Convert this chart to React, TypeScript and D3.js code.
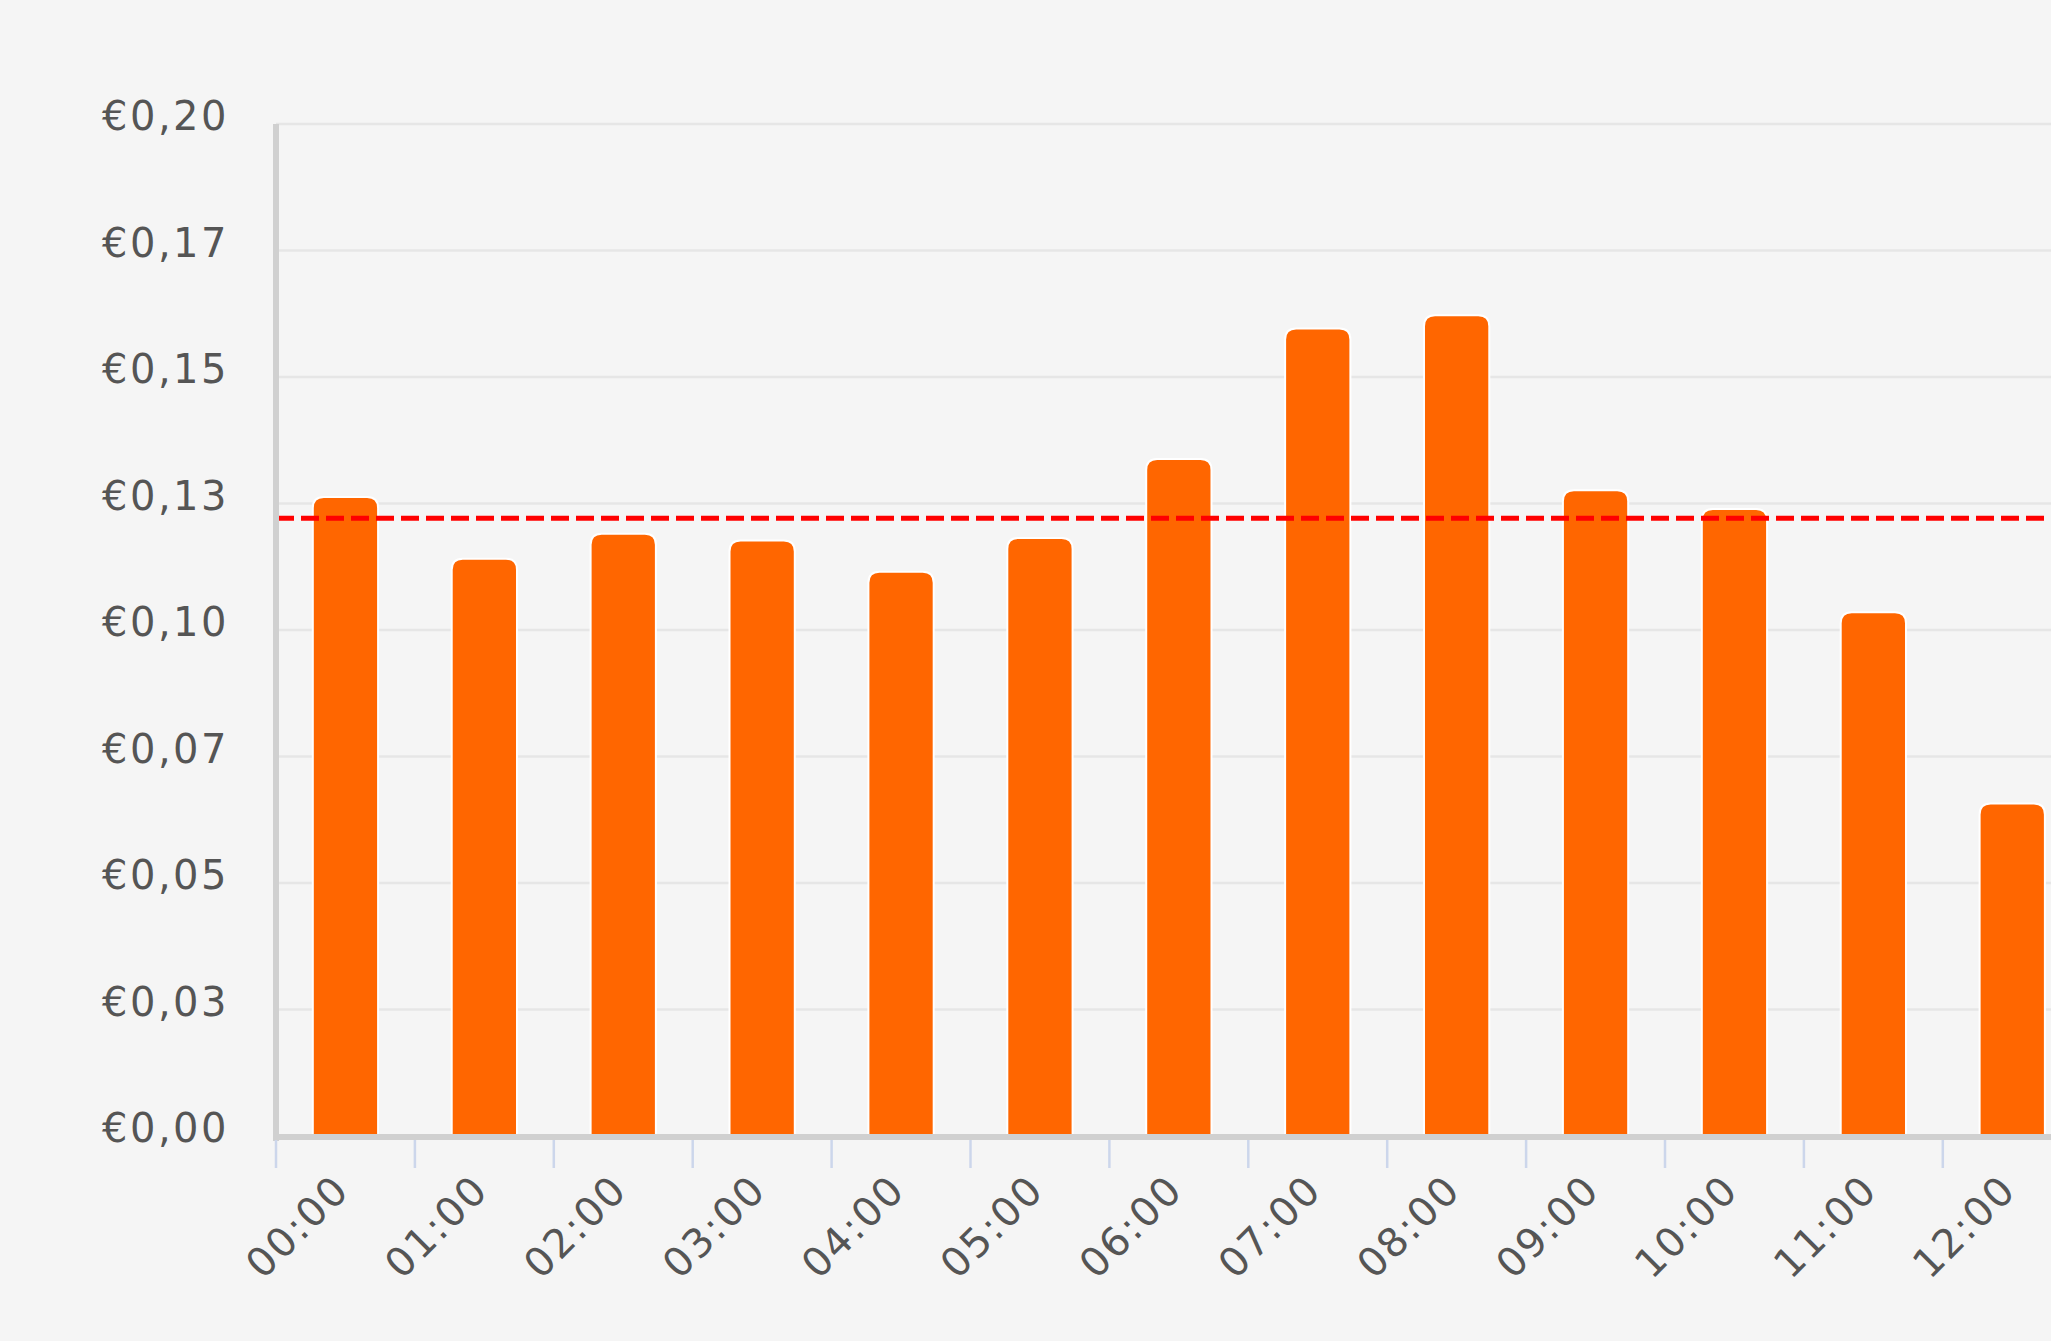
import React from "react";
import * as d3 from "d3";

const hours = ["00:00","01:00","02:00","03:00","04:00","05:00","06:00","07:00","08:00","09:00","10:00","11:00","12:00"];
const prices = [0.1263,0.1141,0.1190,0.1177,0.1115,0.1182,0.1338,0.1596,0.1622,0.1276,0.1239,0.1035,0.0657];
const averagePrice = 0.1221;
const yTicks = [0, 0.025, 0.05, 0.075, 0.1, 0.125, 0.15, 0.175, 0.2];
const yTickLabels = ["€0,00","€0,03","€0,05","€0,07","€0,10","€0,13","€0,15","€0,17","€0,20"];

const W = 2051, H = 1341;
const left = 276, top = 124, bottom = 1136;
const band = 138.9;

export default function App() {
  if (typeof document !== "undefined") document.body.style.margin = "0";
  const x = d3.scaleBand<string>().domain(hours).range([left, left + band * hours.length]).padding(0);
  const y = d3.scaleLinear().domain([0, 0.2]).range([bottom, top]);
  const bw = x.bandwidth() * 0.47;
  const r = 11;
  const barPath = (xc: number, v: number) => {
    const x0 = xc - bw / 2, x1 = xc + bw / 2, y0 = y(v), yb = y(0);
    return `M${x0},${yb} L${x0},${y0 + r} Q${x0},${y0} ${x0 + r},${y0} L${x1 - r},${y0} Q${x1},${y0} ${x1},${y0 + r} L${x1},${yb} Z`;
  };
  const font = "'DejaVu Sans', Verdana, sans-serif";
  return (
    <svg width={W} height={H} style={{ display: "block", background: "#f5f5f5" }}>
      <rect x={0} y={0} width={W} height={H} fill="#f5f5f5" />
      {yTicks.map((t, i) => (
        <g key={t}>
          {t > 0 && <line x1={left} x2={W} y1={y(t)} y2={y(t)} stroke="#e6e6e6" strokeWidth={2.5} />}
          <text x={229} y={y(t) - 5} textAnchor="end" dominantBaseline="middle" fontFamily={font} fontSize={40} letterSpacing={2.5} fill="#555">{yTickLabels[i]}</text>
        </g>
      ))}
      {hours.map((h, i) => (
        <path key={h} d={barPath(x(h)! + x.bandwidth() / 2, prices[i])} fill="#ff6600" stroke="#ffffff" strokeWidth={2} />
      ))}
      <line x1={left} x2={W} y1={y(averagePrice)} y2={y(averagePrice)} stroke="#ff0000" strokeWidth={5} strokeDasharray="18 7" />
      <line x1={left} x2={left} y1={top} y2={bottom + 5} stroke="#d0d0d0" strokeWidth={6} />
      <line x1={left - 3} x2={W} y1={bottom + 1} y2={bottom + 1} stroke="#d0d0d0" strokeWidth={6} />
      {hours.map((h) => (
        <line key={"t" + h} x1={x(h)!} x2={x(h)!} y1={bottom + 4} y2={bottom + 32} stroke="#ccd6eb" strokeWidth={2.5} />
      ))}
      {hours.map((h) => {
        const cx = x(h)! + x.bandwidth() / 2 + 6;
        const cy = 1192;
        return (
          <text key={"l" + h} x={cx} y={cy} textAnchor="end" fontFamily={font} fontSize={40} letterSpacing={2} fill="#555" transform={`rotate(-45 ${cx} ${cy})`}>{h}</text>
        );
      })}
    </svg>
  );
}
